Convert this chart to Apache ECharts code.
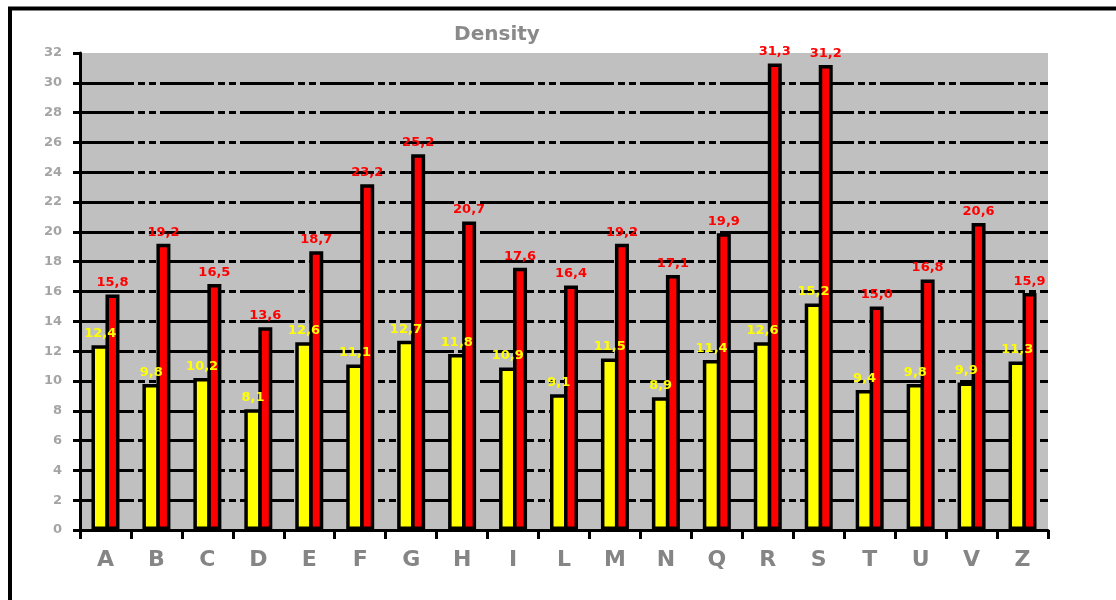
<!DOCTYPE html>
<html>
<head>
<meta charset="utf-8">
<style>
  html, body { margin: 0; padding: 0; background: #fff; }
  #chart { width: 1116px; height: 600px; }
</style>
<script src="https://cdn.jsdelivr.net/npm/echarts@6/dist/echarts.min.js"></script>
</head>
<body>
<div id="chart"></div>
<script>
// Categories along the x axis
const categories = ['A', 'B', 'C', 'D', 'E', 'F', 'G', 'H', 'I', 'L', 'M', 'N', 'Q', 'R', 'S', 'T', 'U', 'V', 'Z'];

// Density values, first (yellow) and second (red) series
const yellowValues = [12.4, 9.8, 10.2, 8.1, 12.6, 11.1, 12.7, 11.8, 10.9, 9.1, 11.5, 8.9, 11.4, 12.6, 15.2, 9.4, 9.8, 9.9, 11.3];
const redValues = [15.8, 19.2, 16.5, 13.6, 18.7, 23.2, 25.2, 20.7, 17.6, 16.4, 19.2, 17.1, 19.9, 31.3, 31.2, 15.0, 16.8, 20.6, 15.9];

// Value axis range
const yMin = 0;
const yMax = 32;
const yStep = 2;

const titleText = 'Density';

// Values are written with a decimal comma
const fmt = v => v.toFixed(1).replace('.', ',');

const chart = echarts.init(document.getElementById('chart'), null, { renderer: 'canvas' });

// Long dash followed by two short dashes
const gridDash = [54, 4, 7, 4, 7, 4];

const labelStyle = color => ({
  show: true,
  position: 'top',
  distance: 5,
  formatter: p => fmt(p.value),
  fontFamily: 'DejaVu Sans',
  fontWeight: 'bold',
  fontSize: 13,
  color: color
});

chart.setOption({
  backgroundColor: '#ffffff',
  animation: false,
  title: {
    text: titleText,
    left: 492,
    top: 20,
    textAlign: 'center',
    textStyle: {
      fontFamily: 'DejaVu Sans',
      fontWeight: 'bold',
      fontSize: 20,
      color: '#8a8a8a'
    }
  },
  graphic: [
    {
      type: 'rect',
      silent: true,
      z: 100,
      shape: { x: 10, y: 8.5, width: 1300, height: 800 },
      style: { fill: null, stroke: '#000', lineWidth: 4 }
    }
  ],
  grid: {
    left: 80,
    right: 68,
    top: 53,
    bottom: 70,
    show: true,
    backgroundColor: '#c0c0c0',
    borderWidth: 0
  },
  xAxis: {
    type: 'category',
    data: categories,
    axisLine: { show: true, lineStyle: { color: '#000', width: 3 } },
    axisTick: { show: true, length: 9, lineStyle: { color: '#000', width: 3 } },
    axisLabel: {
      margin: 19,
      fontFamily: 'DejaVu Sans',
      fontWeight: 'bold',
      fontSize: 22,
      color: '#858585'
    },
    splitLine: { show: false }
  },
  yAxis: {
    type: 'value',
    min: yMin,
    max: yMax,
    interval: yStep,
    axisLine: { show: true, lineStyle: { color: '#000', width: 3 } },
    axisTick: { show: true, length: 7, lineStyle: { color: '#000', width: 3 } },
    axisLabel: {
      margin: 18,
      fontFamily: 'DejaVu Sans',
      fontWeight: 'bold',
      fontSize: 13,
      color: '#a4a4a4'
    },
    splitLine: {
      show: true,
      showMinLine: false,
      showMaxLine: false,
      lineStyle: { color: '#000', width: 3, type: gridDash }
    }
  },
  series: [
    {
      name: 'yellow',
      type: 'bar',
      data: yellowValues,
      barWidth: 17.5,
      barGap: '-20%',
      itemStyle: { color: '#ffff00', borderColor: '#000', borderWidth: 3.5 },
      label: labelStyle('#ffff00'),
      z: 2
    },
    {
      name: 'red',
      type: 'bar',
      data: redValues,
      barWidth: 14,
      barGap: '-20%',
      itemStyle: { color: '#ff0000', borderColor: '#000', borderWidth: 3.5 },
      label: labelStyle('#ff0000'),
      z: 2
    }
  ]
});
</script>
</body>
</html>
